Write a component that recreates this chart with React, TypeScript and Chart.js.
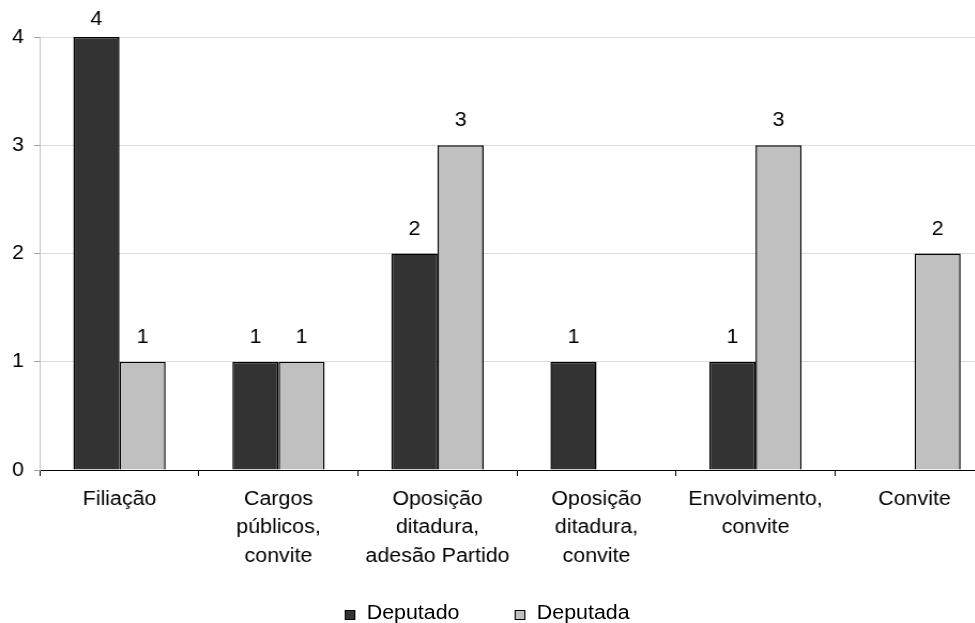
import React, { useEffect, useRef } from "react";
import { Chart, registerables } from "chart.js";

Chart.register(...registerables);

const categories: (string | string[])[] = [
  "Filiação",
  ["Cargos", "públicos,", "convite"],
  ["Oposição", "ditadura,", "adesão Partido"],
  ["Oposição", "ditadura,", "convite"],
  ["Envolvimento,", "convite"],
  "Convite",
];
const seriesNames = ["Deputado", "Deputada"];
const deputado: (number | null)[] = [4, 1, 2, 1, 1, null];
const deputada: (number | null)[] = [1, 1, 3, null, 3, 2];
const seriesColors = ["#333333", "#c0c0c0"];
const yMin = 0;
const yMax = 4;

const STRETCH = 1.07;
const CANVAS_W = 929;
const CANVAS_H = 623;
const FONT = "'Liberation Sans', Arial, sans-serif";

const valueLabels = {
  id: "valueLabels",
  afterDatasetsDraw(chart: any) {
    const ctx = chart.ctx;
    ctx.save();
    ctx.font = `20px ${FONT}`;
    ctx.fillStyle = "#000";
    ctx.textAlign = "center";
    ctx.textBaseline = "alphabetic";
    chart.data.datasets.forEach((ds: any, i: number) => {
      const meta = chart.getDatasetMeta(i);
      meta.data.forEach((el: any, j: number) => {
        const v = ds.data[j];
        if (v === null || v === undefined) return;
        ctx.fillText(String(v), el.x, Math.max(el.y - 19, 25));
      });
    });
    ctx.restore();
  },
};

export default function App() {
  const ref = useRef<HTMLCanvasElement | null>(null);

  useEffect(() => {
    if (!ref.current) return;
    const chart = new Chart(ref.current, {
      type: "bar",
      data: {
        labels: categories,
        datasets: [
          {
            label: seriesNames[0],
            data: deputado,
            backgroundColor: seriesColors[0],
            borderColor: "#000",
            borderWidth: 1.5,
          },
          {
            label: seriesNames[1],
            data: deputada,
            backgroundColor: seriesColors[1],
            borderColor: "#000",
            borderWidth: 1.5,
          },
        ],
      },
      options: {
        responsive: false,
        animation: false,
        layout: { padding: { top: 37, left: 0, right: 0, bottom: 0 } },
        datasets: {
          bar: { categoryPercentage: 0.58, barPercentage: 1 },
        },
        plugins: {
          legend: { display: false },
          tooltip: { enabled: false },
        },
        scales: {
          x: {
            afterFit: (s: any) => {
              s.height = 153;
            },
            grid: {
              offset: true,
              drawOnChartArea: false,
              drawTicks: true,
              tickLength: 6,
              tickColor: "#000",
            },
            border: { color: "#000", width: 1 },
            ticks: {
              color: "#000",
              font: { family: FONT, size: 20, lineHeight: 1.415 },
              padding: 9.5,
              maxRotation: 0,
              minRotation: 0,
              autoSkip: false,
            },
          },
          y: {
            min: yMin,
            max: yMax,
            afterFit: (s: any) => {
              s.width = 40 / STRETCH;
            },
            grid: {
              color: "#dcdcdc",
              tickColor: "#a0a0a0",
              tickLength: 5.6,
            },
            border: { color: "#c0c0c0", width: 1 },
            ticks: {
              stepSize: 1,
              color: "#000",
              font: { family: FONT, size: 20 },
              padding: 9.4,
            },
          },
        },
      },
      plugins: [valueLabels],
    });
    return () => chart.destroy();
  }, []);

  const legendItem = (i: number, marginRight: number) => (
    <div
      key={i}
      style={{ display: "flex", alignItems: "flex-start", marginRight }}
    >
      <span
        style={{
          display: "inline-block",
          width: 10,
          height: 10,
          boxSizing: "border-box",
          border: "1px solid #000",
          background: seriesColors[i],
          marginRight: 10.3,
          marginTop: 7.5,
        }}
      />
      <span>{seriesNames[i]}</span>
    </div>
  );

  return (
    <div
      style={{
        position: "fixed",
        left: 0,
        top: 0,
        width: 975,
        height: 623,
        overflow: "hidden",
        background: "#fff",
      }}
    >
      <div
        style={{
          position: "relative",
          width: CANVAS_W,
          height: CANVAS_H,
          transform: `scaleX(${STRETCH})`,
          transformOrigin: "0 0",
        }}
      >
        <canvas
          ref={ref}
          width={CANVAS_W}
          height={CANVAS_H}
          style={{ display: "block" }}
        />
        <div
          style={{
            position: "absolute",
            left: 322.4,
            top: 602,
            height: 20,
            display: "flex",
            alignItems: "flex-start",
            fontFamily: FONT,
            fontSize: 20,
            lineHeight: "20px",
            color: "#000",
            whiteSpace: "nowrap",
          }}
        >
          {legendItem(0, 52)}
          {legendItem(1, 0)}
        </div>
      </div>
    </div>
  );
}
